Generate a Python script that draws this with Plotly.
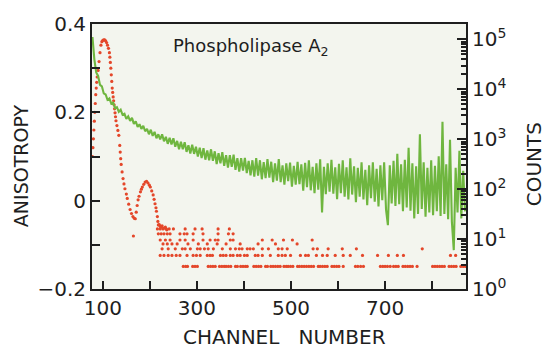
import plotly.graph_objects as go

# ---------------- data ----------------
# Green trace: photon counts (right, log axis) every 4 channels from 78 to 870
GREEN_CH = list(range(78, 871, 4))
GREEN_COUNTS = [
    112000, 40000, 21900, 18600, 12300, 11500, 8300, 7900, 6200, 6600,
    5200, 5400, 4200, 4400, 3550, 3900, 3100, 3240, 2570, 2880,
    2340, 2690, 2040, 2290, 1780, 2000, 1620, 1860, 1450, 1620,
    1260, 1550, 1170, 1410, 1050, 1260, 1000, 1260, 910, 1120,
    810, 1070, 790, 1050,
    710, 930, 630, 890, 630, 870, 560, 760, 520, 780,
    510, 710, 450, 680, 420, 660, 390, 600, 380, 630,
    370, 575, 320, 525, 330, 550, 295, 480, 270, 480,
    280, 490, 245, 420, 225, 420, 235, 425, 210, 370,
    190, 380, 178, 420, 186, 380, 158, 347, 166, 400,
    170, 355, 138, 330, 148, 400, 138, 300, 123, 330,
    145, 340, 112, 295, 123, 355, 126,
    316, 93, 339, 110, 380, 95, 282, 83, 331, 98,
    398, 34, 282, 79, 331, 89, 389, 81, 275, 63,
    324, 83, 380, 71, 275, 62, 417, 78, 288, 55,
    269, 71, 347, 62, 245, 48, 302, 66, 347, 56,
    257, 45, 302, 60, 347, 39, 19, 302, 52, 372,
    46, 513, 50, 316, 36, 389, 43, 676, 37, 331,
    26, 288, 32, 1260, 40, 347, 28, 269, 34, 380,
    30, 295, 36, 457, 29, 2240, 32, 316, 25, 977,
    22, 6, 269, 34, 589, 26, 234, 36,
]

# Red dots: anisotropy (left axis), main curve
ANISO_CH = [
    78, 79, 80, 81, 82, 83, 84, 85, 86, 87, 88, 90, 92, 94, 96, 98, 100, 102, 104,
    106, 108, 110, 112, 114, 115, 116, 117, 118, 119, 120, 121, 122, 123, 124, 125,
    126, 127, 128, 130, 132, 134, 136, 137, 138, 139, 141, 143, 145, 147, 150, 152,
    155, 158, 161, 164, 167, 169, 171, 173, 175, 177, 180, 182, 184, 187, 190, 193,
    196, 199, 201, 204, 207, 209, 211, 213, 214, 216, 217, 220, 222,
    218, 224, 226, 230, 233, 236, 165,
]
ANISO_VAL = [
    0.10, 0.12, 0.14, 0.16, 0.18, 0.20, 0.22, 0.24, 0.255, 0.268, 0.28, 0.295, 0.315,
    0.335, 0.352, 0.36, 0.363, 0.364, 0.364,
    0.362, 0.358, 0.352, 0.345, 0.335, 0.325, 0.313, 0.30, 0.285, 0.27, 0.255, 0.245,
    0.235, 0.226, 0.217, 0.208,
    0.199, 0.19, 0.181, 0.17, 0.159, 0.148, 0.125, 0.11, 0.095, 0.082, 0.065, 0.05,
    0.038, 0.027, 0.015, 0.005,
    -0.008, -0.02, -0.029, -0.036, -0.04, -0.041, -0.026, -0.011, 0.002, 0.01, 0.02,
    0.026, 0.031, 0.037, 0.042, 0.044,
    0.04, 0.035, 0.031, 0.022, 0.013, 0.003, -0.007, -0.016, -0.024, -0.036, -0.047,
    -0.054, -0.058,
    -0.055, -0.06, -0.057, -0.062, -0.06, -0.066, -0.08,
]

# Red dots in the tail: quantised anisotropy levels and the channels where they occur
TAIL_LEVELS = [-0.064, -0.075, -0.089, -0.098, -0.109, -0.124, -0.149]
TAIL_CH = [
    [216, 222, 228, 235, 241, 250, 275, 296, 311, 345, 369],
    [218, 224, 230, 237, 243, 264, 273, 279, 292, 313, 345, 367, 377],
    [222, 233, 243, 264, 275, 292, 313, 328, 339, 345, 371, 377, 439, 460, 484, 503, 545],
    [228, 237, 247, 258, 281, 303, 322, 343, 362, 392, 430, 467, 513],
    [226, 239, 254, 269, 275, 286, 301, 307, 316, 324, 335, 354, 371, 382, 390, 396,
     407, 413, 420, 439, 452, 473, 481, 492, 547, 556, 579, 609, 639, 779],
    [222, 230, 239, 247, 256, 264, 279, 292, 299, 307, 322, 328, 333, 350, 356, 362,
     371, 377, 386, 392, 401, 407, 424, 430, 439, 456, 473, 481, 488, 499, 520, 531,
     537, 554, 567, 577, 594, 611, 626, 652, 684, 707, 726, 739, 839, 850],
    [271, 276, 280, 291, 296, 301, 324, 329, 334, 339, 348, 353, 358, 362, 367, 372,
     382, 386, 393, 398, 403, 407, 421, 426, 431, 436, 446, 450, 457, 462, 467, 472,
     477, 485, 490, 494, 499, 504, 514, 518, 523, 528, 533, 538, 543, 548, 558, 562,
     567, 572, 577, 587, 592, 597, 602, 611, 637, 642, 648, 654, 690, 695, 700, 705,
     711, 718, 723, 728, 738, 743, 748, 753, 758, 768, 801, 806, 811, 816, 821, 826,
     836, 841, 846, 851, 861, 866, 871],
]

X_TICKS = [100, 200, 300, 400, 500, 600, 700, 800]
X_TICKTEXT = ["100", "", "300", "", "500", "", "700", ""]
Y_TICKS = [-0.2, -0.1, 0, 0.1, 0.2, 0.3, 0.4]
Y_TICKTEXT = ["\u22120.2", "", "0", "", "0.2", "", "0.4"]
Y2_TICKS = [1, 10, 100, 1000, 10000, 100000]
Y2_TICKTEXT = ["10<sup>0</sup>", "10<sup>1</sup>", "10<sup>2</sup>",
               "10<sup>3</sup>", "10<sup>4</sup>", "10<sup>5</sup>"]

# ---------------- figure ----------------
tail_x, tail_y = [], []
for lvl, chs in zip(TAIL_LEVELS, TAIL_CH):
    tail_x += chs
    tail_y += [lvl] * len(chs)

minor_vals = [m * 10 ** k for k in range(6) for m in range(2, 10) if m * 10 ** k < 2.0e5]

FONT = "DejaVu Sans"
INK = "#1e1e1e"
GREEN = "#6fb63f"
RED = "#e4472a"

fig = go.Figure()
fig.add_trace(go.Scatter(x=GREEN_CH, y=GREEN_COUNTS, mode="lines", yaxis="y2",
                         line=dict(color=GREEN, width=2.1), hoverinfo="skip"))
fig.add_trace(go.Scatter(x=ANISO_CH + tail_x, y=ANISO_VAL + tail_y, mode="markers",
                         yaxis="y", marker=dict(size=3.2, color=RED), hoverinfo="skip"))

axis_common = dict(showline=True, linecolor=INK, linewidth=2, ticks="inside",
                   tickcolor=INK, tickwidth=2, showgrid=False, zeroline=False,
                   tickfont=dict(family=FONT, size=20, color=INK))

fig.update_layout(
    width=546, height=350,
    margin=dict(l=92, r=80, t=19, b=61),
    paper_bgcolor="white", plot_bgcolor="#f3f5ee",
    showlegend=False,
    xaxis=dict(range=[77, 872], tickmode="array", tickvals=X_TICKS, ticktext=X_TICKTEXT,
               ticklen=8, mirror=True, **axis_common),
    yaxis=dict(range=[-0.2, 0.4], tickmode="array", tickvals=Y_TICKS, ticktext=Y_TICKTEXT,
               ticklen=8, **axis_common),
    yaxis2=dict(overlaying="y", side="right", type="log", range=[0, 5.31],
                tickmode="array", tickvals=Y2_TICKS, ticktext=Y2_TICKTEXT, ticklen=9,
                minor=dict(tickmode="array", tickvals=minor_vals, ticks="inside",
                           ticklen=5, tickwidth=1.5, tickcolor=INK),
                **axis_common),
    annotations=[
        dict(text="Phospholipase A<sub>2</sub>", xref="paper", yref="paper",
             x=0.425, y=0.915, showarrow=False, xanchor="center", yanchor="middle",
             font=dict(family=FONT, size=18, color=INK)),
        dict(text="ANISOTROPY", xref="paper", yref="paper", x=-0.19, y=0.467,
             textangle=-90, showarrow=False, xanchor="center", yanchor="middle",
             font=dict(family=FONT, size=19, color=INK)),
        dict(text="COUNTS", xref="paper", yref="paper", x=1.184, y=0.47,
             textangle=-90, showarrow=False, xanchor="center", yanchor="middle",
             font=dict(family=FONT, size=20, color=INK)),
        dict(text="CHANNEL\u00a0\u00a0\u00a0NUMBER", xref="paper", yref="paper",
             x=0.516, y=-0.181, showarrow=False, xanchor="center", yanchor="middle",
             font=dict(family=FONT, size=20, color=INK)),
    ],
)

fig.write_html("out.html", config={"displayModeBar": False},
               post_script="document.body.style.margin='0';document.body.style.padding='0';")
